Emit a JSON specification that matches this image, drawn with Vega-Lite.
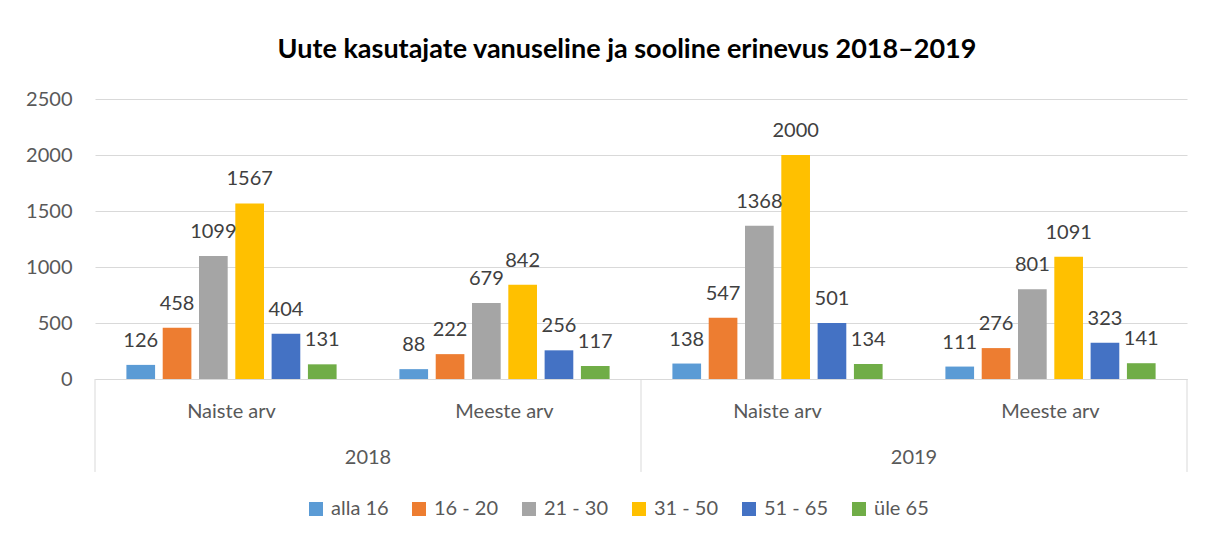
{
  "$schema": "https://vega.github.io/schema/vega-lite/v6.json",
  "width": 1092,
  "height": 280,
  "autosize": {"type": "none"},
  "padding": {"left": 95, "top": 99, "right": 19, "bottom": 161},
  "background": "white",
  "config": {"view": {"stroke": null}, "font": "Lato"},
  "title": {
    "text": "Uute kasutajate vanuseline ja sooline erinevus 2018–2019",
    "fontSize": 27,
    "fontWeight": "bold",
    "color": "#000000",
    "anchor": "middle",
    "offset": 25,
    "dx": -14
  },
  "datasets": {
    "main": [
      {"cat": "2018|Naiste arv", "age": "alla 16", "value": 126},
      {"cat": "2018|Naiste arv", "age": "16 - 20", "value": 458},
      {"cat": "2018|Naiste arv", "age": "21 - 30", "value": 1099},
      {"cat": "2018|Naiste arv", "age": "31 - 50", "value": 1567},
      {"cat": "2018|Naiste arv", "age": "51 - 65", "value": 404},
      {"cat": "2018|Naiste arv", "age": "üle 65", "value": 131},
      {"cat": "2018|Meeste arv", "age": "alla 16", "value": 88},
      {"cat": "2018|Meeste arv", "age": "16 - 20", "value": 222},
      {"cat": "2018|Meeste arv", "age": "21 - 30", "value": 679},
      {"cat": "2018|Meeste arv", "age": "31 - 50", "value": 842},
      {"cat": "2018|Meeste arv", "age": "51 - 65", "value": 256},
      {"cat": "2018|Meeste arv", "age": "üle 65", "value": 117},
      {"cat": "2019|Naiste arv", "age": "alla 16", "value": 138},
      {"cat": "2019|Naiste arv", "age": "16 - 20", "value": 547},
      {"cat": "2019|Naiste arv", "age": "21 - 30", "value": 1368},
      {"cat": "2019|Naiste arv", "age": "31 - 50", "value": 2000},
      {"cat": "2019|Naiste arv", "age": "51 - 65", "value": 501},
      {"cat": "2019|Naiste arv", "age": "üle 65", "value": 134},
      {"cat": "2019|Meeste arv", "age": "alla 16", "value": 111},
      {"cat": "2019|Meeste arv", "age": "16 - 20", "value": 276},
      {"cat": "2019|Meeste arv", "age": "21 - 30", "value": 801},
      {"cat": "2019|Meeste arv", "age": "31 - 50", "value": 1091},
      {"cat": "2019|Meeste arv", "age": "51 - 65", "value": 323},
      {"cat": "2019|Meeste arv", "age": "üle 65", "value": 141}
    ],
    "sepStart": [
      {"cat": "2018|Naiste arv"},
      {"cat": "2019|Naiste arv"}
    ],
    "sepEnd": [
      {"cat": "2019|Meeste arv"}
    ],
    "years": [
      {"cat": "2018|Meeste arv", "year": "2018"},
      {"cat": "2019|Meeste arv", "year": "2019"}
    ]
  },
  "layer": [
    {
      "data": {"name": "main"},
      "mark": {"type": "bar"},
      "encoding": {
        "x": {
          "field": "cat",
          "type": "nominal",
          "scale": {"domain": ["2018|Naiste arv", "2018|Meeste arv", "2019|Naiste arv", "2019|Meeste arv"], "paddingInner": 0, "paddingOuter": 0},
          "axis": {
            "title": null,
            "labelExpr": "split(datum.label, '|')[1]",
            "labelAngle": 0,
            "labelFontSize": 20,
            "labelColor": "#595959",
            "labelPadding": 22,
            "ticks": false,
            "domainColor": "#D9D9D9",
            "domainWidth": 1,
            "grid": false
          }
        },
        "xOffset": {
          "field": "age",
          "type": "nominal",
          "scale": {"domain": ["alla 16", "16 - 20", "21 - 30", "31 - 50", "51 - 65", "üle 65"], "paddingInner": 0.21, "paddingOuter": 0.865}
        },
        "y": {
          "field": "value",
          "type": "quantitative",
          "scale": {"domain": [0, 2500], "nice": false},
          "axis": {
            "title": null,
            "values": [0, 500, 1000, 1500, 2000, 2500],
            "format": "d",
            "labelFontSize": 20,
            "labelColor": "#595959",
            "labelPadding": 23,
            "ticks": false,
            "domain": false,
            "gridColor": "#D9D9D9",
            "gridWidth": 1
          }
        },
        "color": {
          "field": "age",
          "type": "nominal",
          "scale": {
            "domain": ["alla 16", "16 - 20", "21 - 30", "31 - 50", "51 - 65", "üle 65"],
            "range": ["#5B9BD5", "#ED7D31", "#A5A5A5", "#FFC000", "#4472C4", "#70AD47"]
          },
          "legend": {
            "title": null,
            "orient": "none",
            "direction": "horizontal",
            "legendX": 211,
            "legendY": 400,
            "symbolType": "square",
            "symbolSize": 196,
            "symbolStrokeWidth": 0,
            "labelFontSize": 20,
            "labelColor": "#595959",
            "labelOffset": 5,
            "columnPadding": 20,
            "padding": 0
          }
        }
      }
    },
    {
      "data": {"name": "main"},
      "mark": {"type": "text", "fontSize": 20, "color": "#404040", "baseline": "alphabetic", "dy": -18},
      "encoding": {
        "x": {"field": "cat", "type": "nominal", "scale": {"domain": ["2018|Naiste arv", "2018|Meeste arv", "2019|Naiste arv", "2019|Meeste arv"]}},
        "xOffset": {"field": "age", "type": "nominal", "scale": {"domain": ["alla 16", "16 - 20", "21 - 30", "31 - 50", "51 - 65", "üle 65"]}},
        "y": {"field": "value", "type": "quantitative"},
        "text": {"field": "value", "type": "quantitative"}
      }
    },
    {
      "data": {"name": "sepStart"},
      "mark": {"type": "rule", "color": "#D9D9D9", "strokeWidth": 1},
      "encoding": {
        "x": {"field": "cat", "type": "nominal", "bandPosition": 0, "scale": {"domain": ["2018|Naiste arv", "2018|Meeste arv", "2019|Naiste arv", "2019|Meeste arv"]}},
        "y": {"datum": 0, "type": "quantitative"},
        "y2": {"datum": -830}
      }
    },
    {
      "data": {"name": "sepEnd"},
      "mark": {"type": "rule", "color": "#D9D9D9", "strokeWidth": 1},
      "encoding": {
        "x": {"field": "cat", "type": "nominal", "bandPosition": 1, "scale": {"domain": ["2018|Naiste arv", "2018|Meeste arv", "2019|Naiste arv", "2019|Meeste arv"]}},
        "y": {"datum": 0, "type": "quantitative"},
        "y2": {"datum": -830}
      }
    },
    {
      "data": {"name": "years"},
      "mark": {"type": "text", "fontSize": 20, "color": "#595959", "baseline": "middle"},
      "encoding": {
        "x": {"field": "cat", "type": "nominal", "bandPosition": 0, "scale": {"domain": ["2018|Naiste arv", "2018|Meeste arv", "2019|Naiste arv", "2019|Meeste arv"]}},
        "y": {"datum": -705, "type": "quantitative"},
        "text": {"field": "year"}
      }
    }
  ]
}
